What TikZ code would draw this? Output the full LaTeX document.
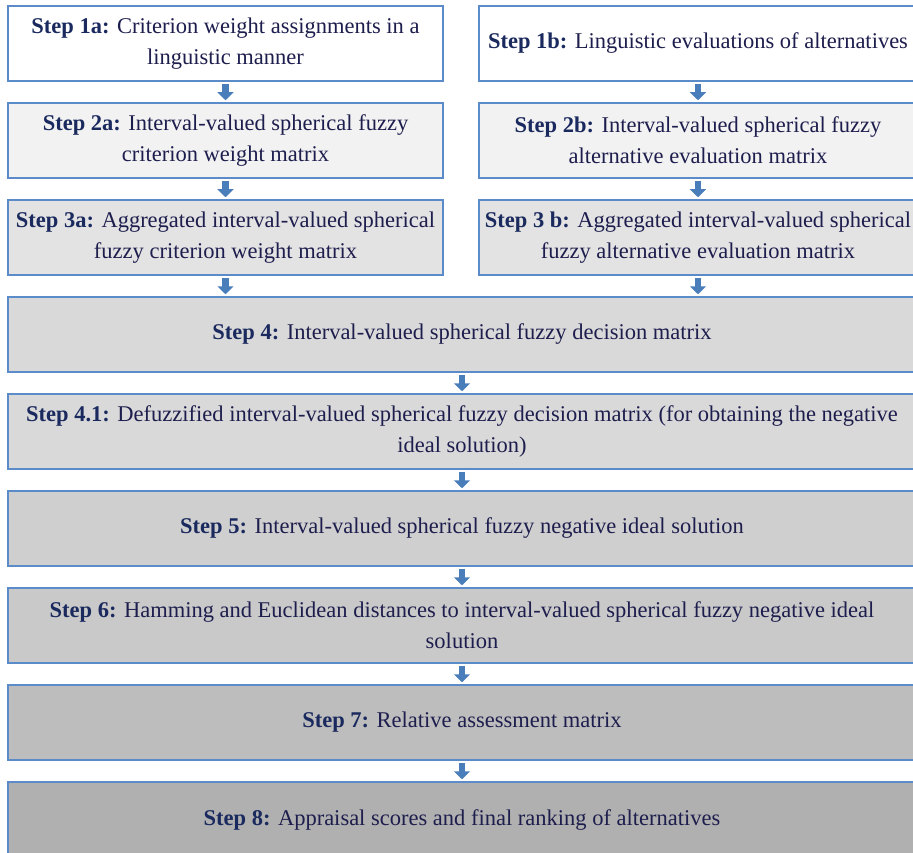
\documentclass[tikz,border=0pt]{standalone}
\usepackage{fontspec}
\setmainfont{LiberationSerif}[Extension=.ttf,UprightFont=*-Regular,BoldFont=*-Bold,ItalicFont=*-Italic,BoldItalicFont=*-BoldItalic]
\usetikzlibrary{arrows.meta,positioning}
\definecolor{boxline}{HTML}{5B8BC9}
\definecolor{arrowblue}{HTML}{4A7EBB}
\definecolor{labelblue}{HTML}{1B2A5E}
\definecolor{bodytext}{HTML}{1E1E4E}
\newcommand{\steplabel}[1]{\textbf{\color{labelblue}#1}}

\begin{document}
\begin{tikzpicture}[x=1pt,y=1pt,node distance=20.5pt,
                    flow/.style={-{Triangle[width=16pt,length=8pt]},line width=6.5pt,
                                 draw=arrowblue,shorten <=2pt,shorten >=2pt}]
  \tikzstyle{narrow}=[draw=boxline,line width=1.5pt,minimum width=435pt,minimum height=75pt,
                      align=center,inner sep=0pt,text=bodytext,
                      font=\fontsize{22.5}{31}\selectfont]
  \tikzstyle{wide}=[narrow,minimum width=908pt]

  \useasboundingbox (0,0) rectangle (913,-853);
  \clip (0,0) rectangle (913,-853);

  \node[narrow,fill=white]    (s1a) at (225.5,-43.5) {\steplabel{Step 1a:} Criterion weight assignments in a\\linguistic manner};
  \node[narrow,fill=white,minimum width=438pt] (s1b) at (698,-43.5) {\steplabel{Step 1b:} Linguistic evaluations of alternatives};
  \node[narrow,fill=black!5]  (s2a) [below=of s1a] {\steplabel{Step 2a:} Interval-valued spherical fuzzy\\criterion weight matrix};
  \node[narrow,fill=black!5,minimum width=438pt] (s2b) [below=of s1b] {\steplabel{Step 2b:} Interval-valued spherical fuzzy\\alternative evaluation matrix};
  \node[narrow,fill=black!11] (s3a) [below=of s2a] {\steplabel{Step 3a:} Aggregated interval-valued spherical\\fuzzy criterion weight matrix};
  \node[narrow,fill=black!11,minimum width=438pt] (s3b) [below=of s2b] {\steplabel{Step 3 b:} Aggregated interval-valued spherical\\fuzzy alternative evaluation matrix};
  \node[wide,fill=black!15]   (s4)  [below=of s3a.south west,anchor=north west] {\steplabel{Step 4:} Interval-valued spherical fuzzy decision matrix};
  \node[wide,fill=black!15]   (s41) [below=of s4] {\steplabel{Step 4.1:} Defuzzified interval-valued spherical fuzzy decision matrix (for obtaining the negative\\ideal solution)};
  \node[wide,fill=black!19]   (s5)  [below=of s41] {\steplabel{Step 5:} Interval-valued spherical fuzzy negative ideal solution};
  \node[wide,fill=black!21]   (s6)  [below=of s5] {\steplabel{Step 6:} Hamming and Euclidean distances to interval-valued spherical fuzzy negative ideal\\solution};
  \node[wide,fill=black!26]   (s7)  [below=of s6] {\steplabel{Step 7:} Relative assessment matrix};
  \node[wide,fill=black!31]   (s8)  [below=of s7] {\steplabel{Step 8:} Appraisal scores and final ranking of alternatives};

  \draw[flow] (s1a) -- (s2a);
  \draw[flow] (s1b) -- (s2b);
  \draw[flow] (s2a) -- (s3a);
  \draw[flow] (s2b) -- (s3b);
  \draw[flow] (s3a) -- (s3a |- s4.north);
  \draw[flow] (s3b) -- (s3b |- s4.north);
  \draw[flow] (s4) -- (s41);
  \draw[flow] (s41) -- (s5);
  \draw[flow] (s5) -- (s6);
  \draw[flow] (s6) -- (s7);
  \draw[flow] (s7) -- (s8);
\end{tikzpicture}
\end{document}
